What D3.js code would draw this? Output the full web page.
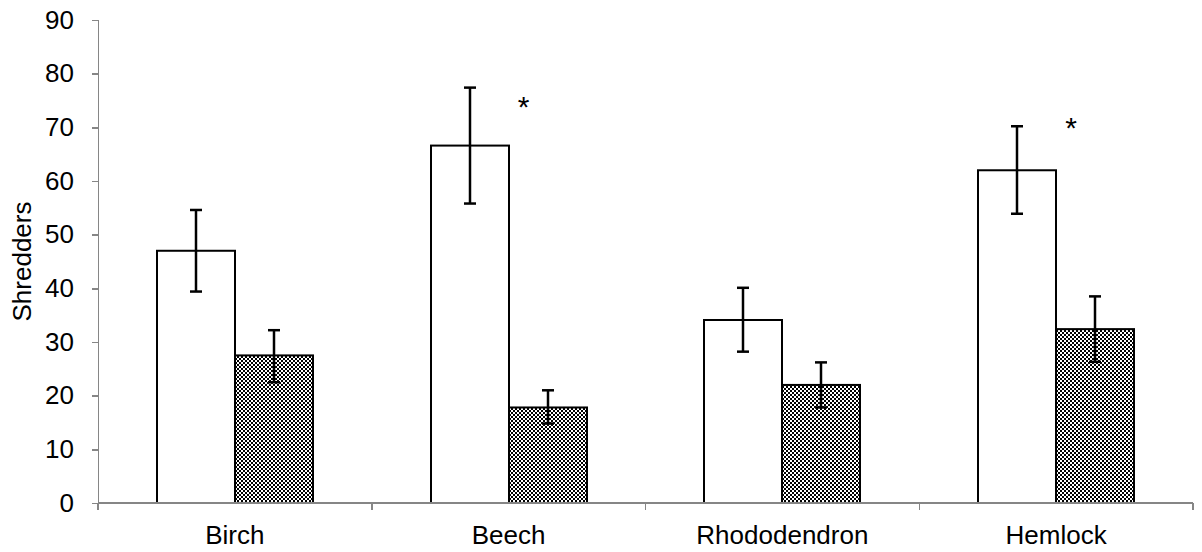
<!DOCTYPE html>
<html lang="en">
<head>
    <meta charset="UTF-8"/>
    <title>Shredders</title>
    <script src="https://d3js.org/d3.v7.min.js" charset="utf-8"></script>
    <style type="text/css">
        body { margin: 0; background: #fff; }
        text { font-family: "Liberation Sans", Arial, sans-serif; font-size: 26px; fill: #000; }
        .axis path, .axis line { stroke: #868686; stroke-width: 1.5px; shape-rendering: crispEdges; }
        .bar { stroke: #000; stroke-width: 2px; }
        .err { stroke: #000; stroke-width: 2.5px; fill: none; }
    </style>
</head>
<body>
<svg width="1202" height="552"></svg>
<script>
    // data
    const categories = ["Birch", "Beech", "Rhododendron", "Hemlock"];
    const series = ["open", "hatched"];
    const openMean = [47, 66.6, 34.1, 62];
    const openLow = [39.4, 55.8, 28.2, 53.9];
    const openHigh = [54.6, 77.4, 40.1, 70.2];
    const hatchMean = [27.5, 17.8, 22, 32.4];
    const hatchLow = [22.5, 14.8, 17.8, 26.3];
    const hatchHigh = [32.2, 21, 26.2, 38.5];
    const yTicks = [0, 10, 20, 30, 40, 50, 60, 70, 80, 90];
    const stars = [{cat: "Beech", y: 75}, {cat: "Hemlock", y: 71}];

    const svg = d3.select("svg");
    const margin = {left: 98, right: 9, top: 20, bottom: 49};
    const width = 1202 - margin.left - margin.right,
        height = 552 - margin.top - margin.bottom;

    const defs = svg.append("defs");
    const pat = defs.append("pattern").attr("id", "checker")
        .attr("patternUnits", "userSpaceOnUse").attr("width", 4).attr("height", 4);
    pat.append("rect").attr("width", 4).attr("height", 4).attr("fill", "#fff");
    pat.append("rect").attr("width", 2).attr("height", 2).attr("fill", "#000");
    pat.append("rect").attr("x", 2).attr("y", 2).attr("width", 2).attr("height", 2).attr("fill", "#000");

    const g = svg.append("g").attr("transform", "translate(" + margin.left + "," + margin.top + ")");

    const x = d3.scaleBand().domain(categories).range([0, width]).paddingInner(0).paddingOuter(0);
    const x1 = d3.scaleBand().domain(series).range([0, 156])
        .paddingInner(0);
    const y = d3.scaleLinear().domain([0, 90]).range([height, 0]);

    const rows = categories.map((c, i) => ({
        cat: c,
        vals: [
            {s: "open", mean: openMean[i], lo: openLow[i], hi: openHigh[i]},
            {s: "hatched", mean: hatchMean[i], lo: hatchLow[i], hi: hatchHigh[i]}
        ]
    }));

    const off = (x.bandwidth() - 156) / 2;

    const grp = g.selectAll(".cat").data(rows).enter().append("g")
        .attr("transform", d => "translate(" + Math.round(x(d.cat) + off) + ",0)");

    grp.selectAll("rect").data(d => d.vals).enter().append("rect")
        .attr("class", "bar")
        .attr("x", d => x1(d.s))
        .attr("y", d => y(d.mean))
        .attr("width", x1.bandwidth())
        .attr("height", d => y(0) - y(d.mean))
        .attr("fill", d => d.s === "open" ? "#fff" : "url(#checker)");

    const capW = 6;
    const eb = grp.selectAll(".eb").data(d => d.vals).enter().append("g").attr("class", "err");
    const cx = d => x1(d.s) + x1.bandwidth() / 2;
    eb.append("line").attr("x1", cx).attr("x2", cx).attr("y1", d => y(d.lo)).attr("y2", d => y(d.hi));
    eb.append("line").attr("x1", d => cx(d) - capW).attr("x2", d => cx(d) + capW)
        .attr("y1", d => y(d.lo)).attr("y2", d => y(d.lo));
    eb.append("line").attr("x1", d => cx(d) - capW).attr("x2", d => cx(d) + capW)
        .attr("y1", d => y(d.hi)).attr("y2", d => y(d.hi));

    // y axis
    const ya = g.append("g").attr("class", "axis")
        .call(d3.axisLeft(y).tickValues(yTicks).tickSize(6).tickPadding(18).tickSizeOuter(6));
    ya.attr("font-size", null).attr("font-family", null);
    ya.selectAll("text").attr("fill", "#000");

    // x axis with ticks at category boundaries
    const xa = g.append("g").attr("class", "axis").attr("transform", "translate(0," + height + ")");
    xa.append("line").attr("x1", 0).attr("x2", width).attr("y1", 0).attr("y2", 0);
    const bounds = categories.map(c => x(c)).concat([width]);
    xa.selectAll(".tk").data(bounds).enter().append("line")
        .attr("x1", d => d).attr("x2", d => d).attr("y1", 0).attr("y2", 7);
    xa.selectAll(".lbl").data(categories).enter().append("text")
        .attr("x", d => x(d) + x.bandwidth() / 2)
        .attr("y", 41)
        .attr("text-anchor", "middle")
        .text(d => d);

    // significance stars
    g.selectAll(".star").data(stars).enter().append("text")
        .attr("x", d => x(d.cat) + x.bandwidth() / 2 + 15)
        .attr("y", d => y(d.y) + 16)
        .attr("text-anchor", "middle")
        .style("font-size", "30px")
        .text("*");

    svg.append("text")
        .attr("transform", "translate(31," + (margin.top + y(45)) + ") rotate(-90)")
        .attr("text-anchor", "middle")
        .text("Shredders");
</script>
</body>
</html>
